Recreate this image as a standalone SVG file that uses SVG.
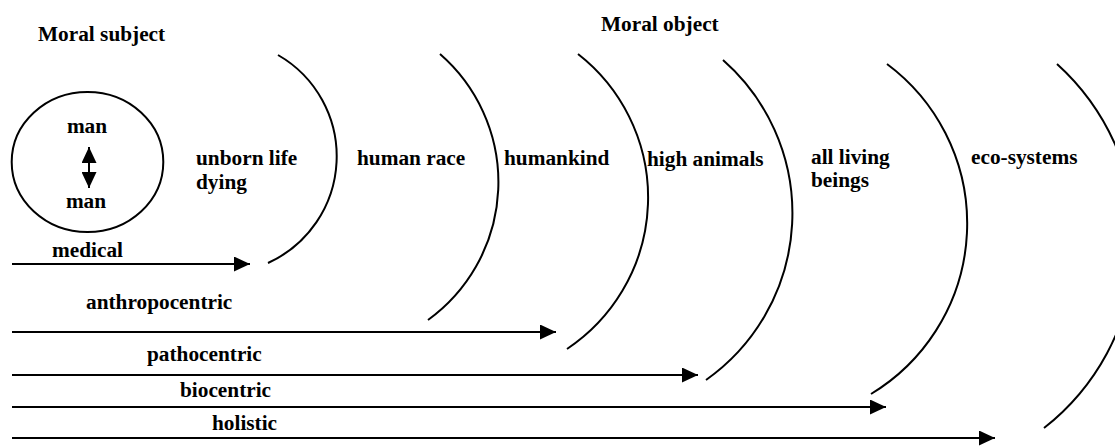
<svg xmlns="http://www.w3.org/2000/svg" width="1115" height="448" viewBox="0 0 1115 448">
<style>
text{font-family:"Liberation Serif","Times New Roman","DejaVu Serif",serif;font-weight:bold;font-size:21.3px;fill:#000}
.ln{stroke:#000;stroke-width:2;fill:none}
.arc{stroke:#000;stroke-width:2;fill:none}
</style>
<defs>
<marker id="ah" markerUnits="userSpaceOnUse" markerWidth="16" markerHeight="15" refX="16" refY="7.5" orient="auto-start-reverse" viewBox="0 0 16 15">
<path d="M0,0 L16,7.5 L0,15 z" fill="#000"/>
</marker>
</defs>
<rect width="1115" height="448" fill="#fff"/>
<g id="titles">
<text x="38" y="41">Moral subject</text>
<text x="601" y="31">Moral object</text>
</g>
<g id="subject">
<ellipse cx="87.5" cy="162" rx="75.8" ry="70" class="ln"/>
<text x="87" y="133" text-anchor="middle">man</text>
<text x="86" y="208" text-anchor="middle">man</text>
</g>
<g id="sphere-unborn">
<path class="arc" d="M278,55 A117,117 0 0 1 268,263"/>
<text x="196" y="165">unborn life</text>
<text x="196" y="189">dying</text>
</g>
<g id="sphere-human-race">
<path class="arc" d="M440,54 A170,170 0 0 1 428,320"/>
<text x="357" y="165">human race</text>
</g>
<g id="sphere-humankind">
<path class="arc" d="M578,54 A182,182 0 0 1 567,349"/>
<text x="504" y="165">humankind</text>
</g>
<g id="sphere-high-animals">
<path class="arc" d="M723,60 A204,204 0 0 1 706,380"/>
<text x="647" y="166">high animals</text>
</g>
<g id="sphere-living">
<path class="arc" d="M887,64 A199,199 0 0 1 871,394"/>
<text x="811" y="164">all living</text>
<text x="811" y="187">beings</text>
</g>
<g id="sphere-eco">
<path class="arc" d="M1057,64 A238,238 0 0 1 1044,428"/>
<text x="971" y="164">eco-systems</text>
</g>
<g id="connectors">
<line class="ln" x1="89" y1="147" x2="89" y2="188" marker-start="url(#ah)" marker-end="url(#ah)"/>
<line class="ln" x1="12" y1="264" x2="250" y2="264" marker-end="url(#ah)"/>
<line class="ln" x1="12" y1="332" x2="556" y2="332" marker-end="url(#ah)"/>
<line class="ln" x1="12" y1="375" x2="698" y2="375" marker-end="url(#ah)"/>
<line class="ln" x1="12" y1="407" x2="886" y2="407" marker-end="url(#ah)"/>
<line class="ln" x1="12" y1="438" x2="995" y2="438" marker-end="url(#ah)"/>
</g>
<g id="labels">
<text x="52" y="257">medical</text>
<text x="86" y="309">anthropocentric</text>
<text x="147" y="361">pathocentric</text>
<text x="180" y="397">biocentric</text>
<text x="212" y="430">holistic</text>
</g>
</svg>
